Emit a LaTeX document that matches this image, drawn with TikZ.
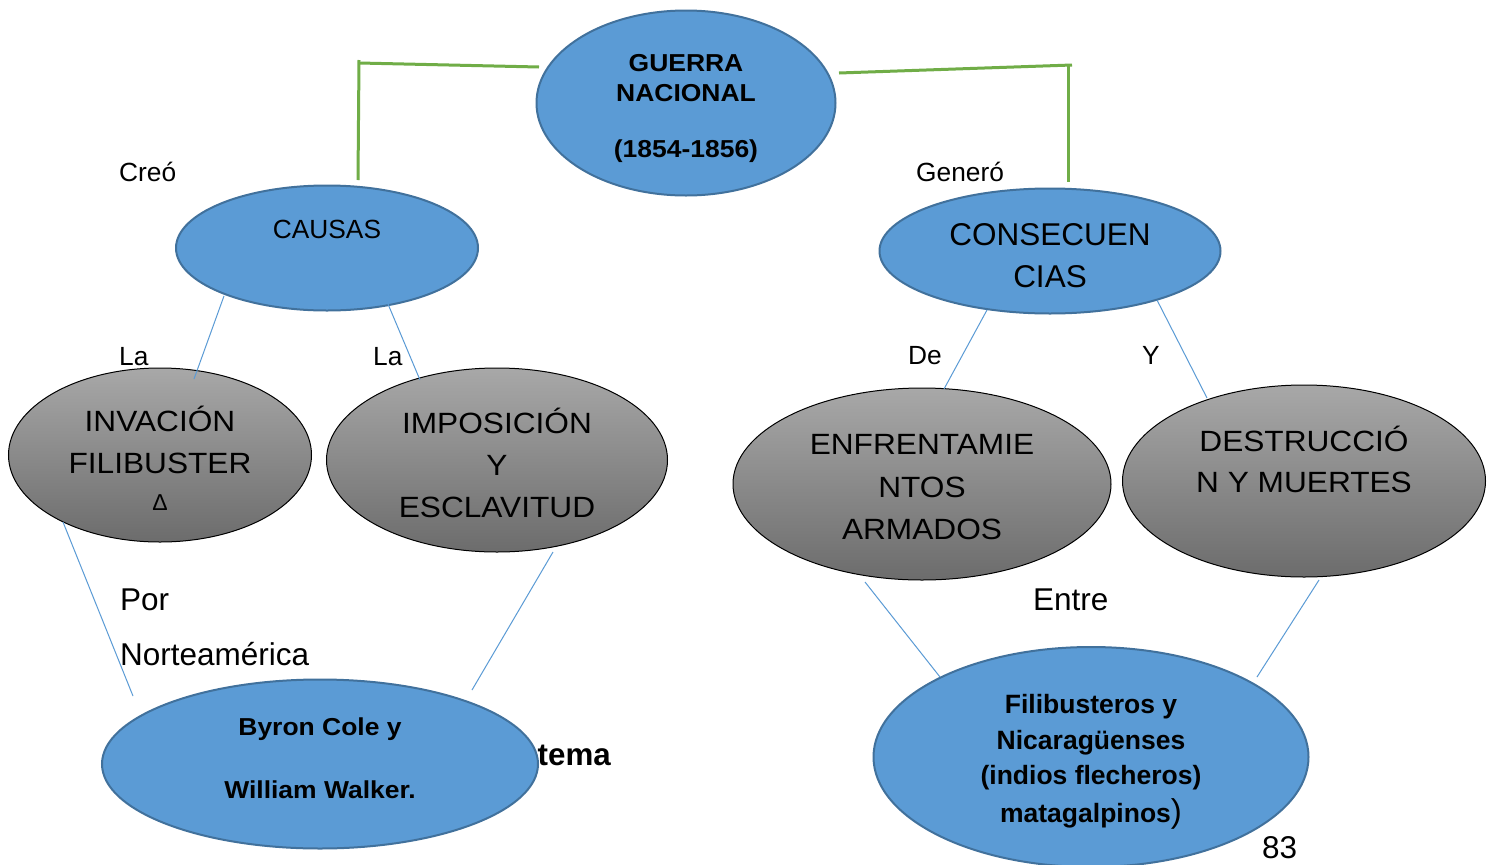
\documentclass[tikz,border=0pt]{standalone}
\usepackage{fontspec}
\setmainfont{Liberation Sans}
\newfontfamily\fS{Liberation Sans}[FakeStretch=1.08]
\usetikzlibrary{shapes.geometric}
\definecolor{bfill}{HTML}{5B9BD5}
\definecolor{bdraw}{HTML}{41719C}
\definecolor{gline}{HTML}{70AD47}
\definecolor{gtop}{HTML}{A8A8A8}
\definecolor{gbot}{HTML}{6C6C6C}
\begin{document}
\begin{tikzpicture}[x=1pt,y=-1pt,
  blueell/.style={ellipse, draw=bdraw, line width=2pt, fill=bfill, inner sep=0},
  grayell/.style={ellipse, draw=black, line width=1pt, top color=gtop, bottom color=gbot, inner sep=0},
  conn/.style={draw=bfill, line width=1pt},
  grn/.style={draw=gline, line width=3pt},
  tc/.style={inner sep=0, anchor=base},
  tl/.style={inner sep=0, anchor=base west},
  tr/.style={inner sep=0, anchor=base east},
  big/.style={font=\fS\fontsize{29.3}{34}\selectfont},
  bigu/.style={font=\fontsize{31.5}{36}\selectfont},
  small/.style={font=\fontsize{26.3}{30}\selectfont},
  bstr/.style={font=\fS\bfseries\fontsize{24.5}{28}\selectfont},
  bnorm/.style={font=\bfseries\fontsize{26.5}{30}\selectfont}]
\useasboundingbox (0,0) rectangle (1489,865);
\fill[white] (0,0) rectangle (1489,865);

% hidden text behind Byron ellipse
\node[tr, font=\bfseries\fontsize{31.3}{36}\selectfont] (tema) at (611,765) {tema};

% ellipses
\node[blueell, minimum width=299pt, minimum height=185pt] (gn) at (686,103) {};
\node[blueell, minimum width=302pt, minimum height=125pt] (causas) at (327,248) {};
\node[blueell, minimum width=341pt, minimum height=125pt] (cons) at (1050,251) {};
\node[grayell, minimum width=303pt, minimum height=174pt] (inv) at (160,455) {};
\node[grayell, minimum width=341pt, minimum height=184pt] (imp) at (497,460) {};
\node[grayell, minimum width=378pt, minimum height=192pt] (enf) at (922,484) {};
\node[grayell, minimum width=363pt, minimum height=192pt] (des) at (1304,481) {};
\node[blueell, minimum width=436pt, minimum height=169pt] (byron) at (320,764) {};
\node[blueell, minimum width=435pt, minimum height=220pt] (fil) at (1091,757) {};

% green connectors
\coordinate (lc) at (359,63);
\coordinate (lt) at (359,60);
\coordinate (rc) at (1072,65);
\coordinate (rt) at (1068,64);
\draw[grn] ([shift={(-147,-36)}]gn.center) -- (lc);
\draw[grn] (lt) -- ([shift={(31,-68)}]causas.center);
\draw[grn] ([shift={(153,-30)}]gn.center) -- (rc);
\draw[grn] (rt) -- ([shift={(18,-69)}]cons.center);

% blue connectors
\draw[conn] ([shift={(-103,48)}]causas.center) -- ([shift={(34,-76)}]inv.center);
\draw[conn] ([shift={(61,56)}]causas.center) -- ([shift={(-77,-80)}]imp.center);
\draw[conn] ([shift={(-63,59)}]cons.center) -- ([shift={(22,-95)}]enf.center);
\draw[conn] ([shift={(107,49)}]cons.center) -- ([shift={(-97,-83)}]des.center);
\draw[conn] ([shift={(-97,67)}]inv.center) -- ([shift={(-187,-68)}]byron.center);
\draw[conn] ([shift={(56,92)}]imp.center) -- ([shift={(152,-74)}]byron.center);
\draw[conn] ([shift={(-57,98)}]enf.center) -- ([shift={(-151,-80)}]fil.center);
\draw[conn] ([shift={(15,99)}]des.center) -- ([shift={(166,-80)}]fil.center);

% texts in ellipses
\node[tc, bstr] (g1) at (686,71.5) {GUERRA};
\node[tc, bstr] (g2) at (686,101.5) {NACIONAL};
\node[tc, bstr] (g3) at (686,157) {(1854-1856)};

\node[tc, small] (c1) at (327,238) {CAUSAS};
\node[tc, bigu] (k1) at (1050,245) {CONSECUEN};
\node[tc, bigu] (k2) at (1050,287) {CIAS};

\node[tc, big] (i1) at (160,431) {INVACIÓN};
\node[tc, big] (i2) at (160,473) {FILIBUSTER};
\node[tc, font=\fontsize{23}{26}\selectfont] (i3) at (160,510) {Δ};

\node[tc, big] (p1) at (497,433) {IMPOSICIÓN};
\node[tc, big] (p2) at (497,475) {Y};
\node[tc, big] (p3) at (497,517) {ESCLAVITUD};

\node[tc, big] (e1) at (922,454) {ENFRENTAMIE};
\node[tc, big] (e2) at (922,497) {NTOS};
\node[tc, big] (e3) at (922,539) {ARMADOS};

\node[tc, big] (d1) at (1304,451) {DESTRUCCIÓ};
\node[tc, big] (d2) at (1304,492) {N Y MUERTES};

\node[tc, bstr] (b1) at (320,735) {Byron Cole y};
\node[tc, bstr] (b2) at (320,798) {William Walker.};

\node[tc, bnorm] (f1) at (1091,713) {Filibusteros y};
\node[tc, bnorm] (f2) at (1091,749) {Nicaragüenses};
\node[tc, bnorm] (f3) at (1091,784) {(indios flecheros)};
\node[tc, bnorm] (f4) at (1091,822) {matagalpinos{\mdseries\fontsize{33}{36}\selectfont)}};

% connector labels
\node[tl, small] (l1) at (119,181.5) {Creó};
\node[tl, small] (l2) at (916,181) {Generó};
\node[tl, small] (l3) at (119,365) {La};
\node[tl, small] (l4) at (373,365) {La};
\node[tl, small] (l5) at (908,364) {De};
\node[tl, small] (l6) at (1142,364) {Y};
\node[tl, bigu] (l7) at (120,610) {Por};
\node[tl, bigu] (l8) at (120,665) {Norteamérica};
\node[tl, bigu] (l9) at (1033,610) {Entre};
\node[tl, bigu] (pg) at (1262,858) {83};
\end{tikzpicture}
\end{document}
